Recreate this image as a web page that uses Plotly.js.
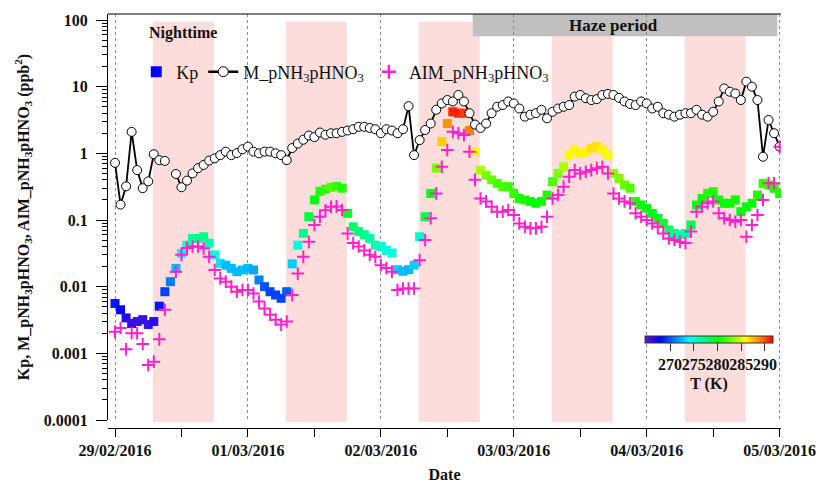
<!DOCTYPE html>
<html><head><meta charset="utf-8">
<script src="https://cdn.plot.ly/plotly-3.0.1.min.js"></script>
<style>html,body{margin:0;padding:0;background:#fff}#chart{width:820px;height:486px}</style>
</head><body><div id="chart"></div>
<script>
// ---- data (hourly, 29/02/2016 00:00 to 05/03/2016 00:00) ----
const days = ['2016-02-29','2016-03-01','2016-03-02','2016-03-03','2016-03-04','2016-03-05'];
const dayTickLabels = ['29/02/2016','01/03/2016','02/03/2016','03/03/2016','04/03/2016','05/03/2016'];

const M_pNH3pHNO3 = [0.72,0.17,0.32,2.1,0.56,0.30,0.38,0.97,0.79,0.77,null,0.49,0.31,0.39,0.50,0.60,0.67,0.78,0.84,0.94,
1.06,0.94,1.01,1.15,1.26,1.06,1.0,1.06,1.06,1.0,0.94,0.79,1.2,1.4,1.6,1.85,1.75,2.05,1.9,2.0,
2.0,2.1,2.2,2.3,2.5,2.5,2.4,2.3,2.0,2.3,2.2,2.0,2.3,5.1,0.94,1.58,2.24,2.8,4.5,5.6,
6.3,6.0,7.5,6.0,4.0,2.7,2.4,2.8,4.0,5.0,5.3,6.0,5.6,4.7,3.55,3.8,4.0,4.5,3.35,4.2,
4.7,5.0,5.3,7.1,7.5,6.7,6.3,6.5,7.5,7.8,7.5,6.8,6.0,5.5,5.3,6.0,5.6,4.7,5.0,4.0,
3.8,3.55,3.8,4.0,4.0,4.5,3.8,3.55,4.2,6.0,9.4,8.4,7.9,6.3,11.9,10,6.3,0.89,3.16,2.0,1.26];

const Kp = [0.0056,0.0045,0.0034,0.0028,0.0030,0.0032,0.0027,0.0030,0.0051,0.0084,0.0119,0.0188,0.0316,0.042,0.053,0.053,0.056,0.045,0.030,0.0224,
0.021,0.0188,0.0168,0.0178,0.0188,0.0178,0.0126,0.0100,0.0084,0.0075,0.0067,0.0084,0.022,0.042,0.063,0.112,0.2,0.27,0.29,0.31,
0.32,0.30,0.126,0.079,0.067,0.060,0.053,0.042,0.040,0.035,0.032,0.018,0.017,0.018,0.021,0.056,0.112,0.25,0.6,1.5,
2.8,4.2,4.0,4.0,2.2,1.06,0.56,0.47,0.40,0.355,0.316,0.316,0.25,0.21,0.20,0.19,0.178,0.19,0.237,0.376,
0.5,0.63,0.94,1.12,1.0,1.06,1.19,1.26,1.12,0.94,0.5,0.42,0.335,0.30,0.19,0.168,0.15,0.126,0.106,0.089,
0.071,0.063,0.06,0.063,0.084,0.168,0.21,0.25,0.266,0.2,0.178,0.178,0.2,0.133,0.158,0.178,0.237,0.355,0.335,0.3,0.25];

const AIM_pNH3pHNO3 = [0.0021,0.0024,0.00115,0.0020,0.0020,0.00138,0.00067,0.00075,0.00162,0.0045,null,0.0168,0.030,0.038,0.040,0.040,0.0376,0.028,0.0178,0.0133,
0.0119,0.010,0.0084,0.0089,0.0089,0.0079,0.006,0.0047,0.0038,0.0032,0.0027,0.0030,0.0075,0.0158,0.028,0.047,0.084,0.112,0.14,0.158,
0.16,0.141,0.063,0.045,0.040,0.035,0.030,0.028,0.021,0.019,0.0168,0.0089,0.0094,0.0094,0.0094,0.025,0.05,0.106,0.25,0.63,
1.12,2.1,2.0,1.88,1.06,0.40,0.21,0.19,0.158,0.133,0.133,0.141,0.119,0.089,0.079,0.075,0.075,0.079,0.112,0.21,
0.237,0.316,0.447,0.56,0.5,0.53,0.56,0.6,0.63,0.5,0.25,0.21,0.19,0.178,0.126,0.112,0.10,0.089,0.079,0.063,
0.053,0.050,0.047,0.045,0.067,0.133,0.158,0.178,0.19,0.126,0.106,0.10,0.094,0.10,0.056,0.084,0.119,0.2,0.355,0.355,1.26];

const T_K = [268.5,268,266.5,266,266,266,266,266.5,268.5,269.5,271,272.5,274,275.5,276.5,277,277,276,275,273.5,
272.5,272.5,272.5,272.5,272.5,272,271,270,269.5,269.5,269.5,270,273,275,277,279,280,281,281.5,282,
281.5,281,279.5,278,277.5,277,276.5,276,275.5,275,275,273,272.5,272.5,273,275.5,278.5,280,283,287,
288.5,291,291,290.5,289,286,284,283,282.5,282,282,281.5,281.5,281,281,280.5,280.5,280.5,281,282,
283,284,285.5,286,286,286,286.5,286.5,286,285.5,283.5,283,282.5,282,281,280.5,280,280,279.5,279,
278,277,276.5,276.5,278.5,280,280.5,281,281,280.5,280.5,280.5,280.5,280,280,280.5,281,281.5,281.5,281,281];

const colorbarTicks = [270,275,280,285,290];
const nightStart = ['2016-02-29 06:51','2016-03-01 06:51','2016-03-02 06:51','2016-03-03 06:51','2016-03-04 06:51'];
const nightEnd   = ['2016-02-29 17:51','2016-03-01 17:51','2016-03-02 17:51','2016-03-03 17:51','2016-03-04 17:51'];
const hazeStart = '2016-03-02 16:35';
const hazeEnd = '2016-03-04 23:35';

// ---- build ----
function hourStr(h){ const d=Math.floor(h/24), hh=h%24; return days[d]+' '+String(hh).padStart(2,'0')+':00'; }
const time = M_pNH3pHNO3.map((_,i)=>hourStr(i));
const F = '"Liberation Serif", "Times New Roman", serif';
const INK = '#111';
const PINK = '#ff22cc';

const cs = [[0,'#5a1ad2'],[0.12,'#0000ff'],[0.35,'#00ffff'],[0.58,'#00ff00'],[0.78,'#ffff00'],[0.9,'#ff8000'],[1,'#ff0000']];

const minorVals = [];
for (let e=-4; e<2; e++) for (let k=2; k<10; k++) minorVals.push(k*Math.pow(10,e));

const traces = [
  {type:'scatter', mode:'markers', x:time, y:Kp, showlegend:false, hoverinfo:'skip',
   marker:{symbol:'square', size:9, color:T_K, cmin:264.7, cmax:291.7, colorscale:cs, line:{width:0},
     colorbar:{orientation:'h', thickness:7, len:128, lenmode:'pixels', x:0.893, xanchor:'center',
       y:0.222, yanchor:'top', xpad:0, ypad:0, outlinewidth:1, outlinecolor:'#333',
       tickmode:'array', tickvals:colorbarTicks, ticktext:colorbarTicks.map(String),
       ticks:'outside', ticklen:8, tickwidth:1, tickcolor:'#333', tickangle:0,
       tickfont:{family:F, size:16, weight:'bold', color:INK},
       title:{text:'T (K)', side:'bottom', font:{family:F, size:16, weight:'bold', color:INK}}}}},
  {type:'scatter', mode:'lines+markers', x:time, y:M_pNH3pHNO3, showlegend:false, hoverinfo:'skip',
   line:{color:'#000', width:1.8},
   marker:{symbol:'circle', size:9, color:'#fff', line:{color:'#000', width:1}}},
  {type:'scatter', mode:'markers', x:time, y:AIM_pNH3pHNO3, showlegend:false, hoverinfo:'skip',
   marker:{symbol:'cross-thin', size:9, color:PINK, line:{color:PINK, width:2}}},
  // legend entries
  {type:'scatter', mode:'markers', x:[null], y:[null], name:'Kp',
   marker:{symbol:'square', size:11, color:'#0000ff'}},
  {type:'scatter', mode:'lines+markers', x:[null], y:[null], name:'M_pNH<sub>3</sub>pHNO<sub>3</sub>',
   line:{color:'#000', width:2.5}, marker:{symbol:'circle', size:10, color:'#fff', line:{color:'#000', width:1}}},
  {type:'scatter', mode:'markers', x:[null], y:[null], name:'AIM_pNH<sub>3</sub>pHNO<sub>3</sub>',
   marker:{symbol:'cross-thin', size:10, color:PINK, line:{color:PINK, width:2.5}}}
];

const shapes = nightStart.map((s,i)=>({type:'rect', xref:'x', yref:'paper', x0:s, x1:nightEnd[i], y0:0.014, y1:0.981,
  fillcolor:'#fddcdc', line:{width:0}, layer:'below'}));
shapes.push({type:'rect', xref:'x', yref:'paper', x0:hazeStart, x1:hazeEnd, y0:0.946, y1:1,
  fillcolor:'#c0c0c0', line:{width:0}, layer:'below'});
shapes.push({type:'line', xref:'paper', yref:'paper', x0:0, x1:1, y0:1, y1:1, line:{color:'#000', width:1.2}});

const layout = {
  width:820, height:486,
  margin:{l:108, r:39, t:14, b:58},
  paper_bgcolor:'#fff', plot_bgcolor:'rgba(0,0,0,0)',
  font:{family:F, color:INK},
  showlegend:true,
  legend:{orientation:'h', x:0.042, xanchor:'left', y:0.86, yanchor:'middle', bgcolor:'rgba(0,0,0,0)',
    font:{family:F, size:18, color:INK}, itemsizing:'trace', tracegroupgap:0},
  xaxis:{type:'date', range:['2016-02-28 22:44','2016-03-05 00:15'], anchor:'free', position:0,
    tickmode:'array', tickvals:days, ticktext:dayTickLabels,
    ticks:'outside', ticklen:8, tickwidth:1, tickcolor:'#000',
    showline:true, linecolor:'#000', linewidth:1,
    showgrid:true, gridcolor:'#8a8a8a', griddash:'dot', gridwidth:1, zeroline:false,
    minor:{dtick:43200000, ticks:'outside', ticklen:8, tickwidth:1, tickcolor:'#000', showgrid:false},
    tickfont:{family:F, size:16, weight:'bold', color:INK},
    title:{text:'Date', standoff:10, font:{family:F, size:16, weight:'bold', color:INK}}},
  yaxis:{type:'log', range:[-4, 2.09], domain:[0.0193, 1],
    tickmode:'array', tickvals:[1e-4,1e-3,1e-2,0.1,1,10,100], ticktext:['0.0001','0.001','0.01','0.1','1','10','100'],
    ticks:'outside', ticklen:11, tickwidth:1, tickcolor:'#000', ticklabelstandoff:5,
    showline:true, linecolor:'#000', linewidth:1, showgrid:false, zeroline:false,
    minor:{tickmode:'array', tickvals:minorVals, ticks:'outside', ticklen:5, tickwidth:1, tickcolor:'#000', showgrid:false},
    tickfont:{family:F, size:16, weight:'bold', color:INK},
    title:{text:'Kp, M_pNH<sub>3</sub>pHNO<sub>3</sub>, AIM_pNH<sub>3</sub>pHNO<sub>3</sub> (ppb<sup>2</sup>)', standoff:10,
      font:{family:F, size:16, weight:'bold', color:INK}}},
  shapes:shapes,
  annotations:[
    {xref:'x', yref:'paper', x:'2016-02-29 12:20', y:0.954, yanchor:'middle', xanchor:'center', text:'Nighttime', showarrow:false,
     font:{family:F, size:16, weight:'bold', color:INK}},
    {xref:'x', yref:'paper', x:'2016-03-03 18:00', y:0.973, yanchor:'middle', xanchor:'center', text:'Haze period', showarrow:false,
     font:{family:F, size:17, weight:'bold', color:INK}}
  ]
};

Plotly.newPlot('chart', traces, layout, {displayModeBar:false, staticPlot:true});
</script>
</body></html>
